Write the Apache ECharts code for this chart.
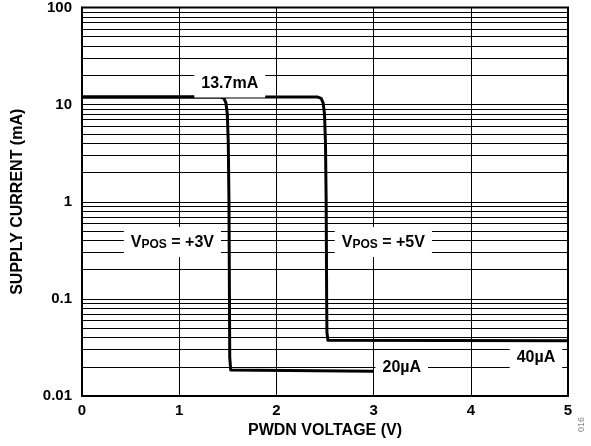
<!DOCTYPE html>
<html>
  <head>
    <meta charset="utf-8" />
    <title>Supply current vs PWDN voltage</title>
    <script type="text/javascript" src="https://cdn.jsdelivr.net/npm/echarts@6/dist/echarts.min.js"></script>
    <style>
      html, body { margin: 0; padding: 0; background: #fff; }
      #main { width: 591px; height: 446px; }
    </style>
  </head>
  <body>
    <div id="main"></div>
    <script type="text/javascript">
    // PWDN voltage (V) vs supply current (mA)
    var vpos3 = [
      [0, 12], [1.42, 12], [1.46, 11.6], [1.48, 10.5], [1.495, 8], [1.505, 4],
      [1.512, 1], [1.517, 0.1], [1.52, 0.025], [1.53, 0.0185], [1.55, 0.018], [3, 0.018]
    ];
    var vpos5 = [
      [0, 12], [2.42, 12], [2.46, 11.6], [2.48, 10.5], [2.495, 8], [2.505, 4],
      [2.512, 1], [2.517, 0.1], [2.52, 0.045], [2.53, 0.0375], [2.55, 0.037], [5, 0.037]
    ];
    var xTicks = [0, 1, 2, 3, 4, 5];
    var yDecades = [0.01, 0.1, 1, 10, 100];
    var notes = [
      [1.52, 16.5, '13.7mA'],
      [0.93, 0.384, '{n|V}{s|POS}{n| = +3V}'],
      [3.1, 0.384, '{n|V}{s|POS}{n| = +5V}'],
      [3.29, 0.0194, '20\u00b5A'],
      [4.67, 0.0246, '40\u00b5A']
    ];

    // minor log grid lines 2..9 inside every decade
    var minorLines = [];
    for (var d = 0; d < yDecades.length - 1; d++) {
      for (var m = 2; m <= 9; m++) {
        minorLines.push({ yAxis: +(yDecades[d] * m).toPrecision(3) });
      }
    }

    var dom = document.getElementById('main');
    var myChart = echarts.init(dom, null, { renderer: 'canvas' });
    var font = 'Liberation Sans, Arial, sans-serif';

    var option = {
      animation: false,
      backgroundColor: '#fff',
      grid: {
        left: 82, top: 7, right: 23, bottom: 50,
        show: true, borderColor: '#000', borderWidth: 2, backgroundColor: 'transparent'
      },
      xAxis: {
        type: 'value',
        min: 0, max: 5, interval: 1,
        name: 'PWDN VOLTAGE (V)',
        nameLocation: 'middle',
        nameGap: 27,
        nameTextStyle: { fontFamily: font, fontWeight: 'bold', fontSize: 16, color: '#000' },
        axisLine: { show: true, lineStyle: { color: '#000', width: 2 } },
        axisTick: { show: false },
        axisLabel: {
          fontFamily: font, fontWeight: 'bold', fontSize: 15, color: '#000', margin: 7,
          formatter: function (v) { return xTicks.indexOf(v) >= 0 ? String(v) : ''; }
        },
        splitLine: { show: true, lineStyle: { color: '#000', width: 1 } }
      },
      yAxis: {
        type: 'log',
        logBase: 10,
        min: 0.01, max: 100,
        name: 'SUPPLY CURRENT (mA)',
        nameLocation: 'middle',
        nameGap: 56,
        nameRotate: 90,
        nameTextStyle: { fontFamily: font, fontWeight: 'bold', fontSize: 16, color: '#000' },
        axisLine: { show: true, lineStyle: { color: '#000', width: 2 } },
        axisTick: { show: false },
        axisLabel: {
          fontFamily: font, fontWeight: 'bold', fontSize: 15, color: '#000', margin: 10,
          formatter: function (v) {
            var hit = yDecades.filter(function (t) { return Math.abs(t - v) / t < 1e-6; });
            return hit.length ? String(hit[0]) : '';
          }
        },
        splitLine: { show: true, lineStyle: { color: '#000', width: 1 } }
      },
      series: [
        {
          name: 'grid',
          type: 'line',
          data: [],
          silent: true,
          markLine: {
            silent: true,
            symbol: 'none',
            label: { show: false },
            lineStyle: { color: '#000', width: 1, type: 'solid' },
            data: minorLines
          }
        },
        {
          name: 'VPOS = +3V',
          type: 'line',
          data: vpos3,
          showSymbol: false,
          lineStyle: { color: '#000', width: 3, join: 'round' },
          z: 5
        },
        {
          name: 'VPOS = +5V',
          type: 'line',
          data: vpos5,
          showSymbol: false,
          lineStyle: { color: '#000', width: 3, join: 'round' },
          z: 5
        },
        {
          name: 'notes',
          type: 'scatter',
          data: notes,
          symbolSize: 0,
          silent: true,
          z: 10,
          itemStyle: { color: '#000', opacity: 1 },
          label: {
            show: true,
            position: 'inside',
            opacity: 1,
            formatter: function (p) { return p.data[2]; },
            backgroundColor: '#fff',
            padding: [6, 7, 6, 7],
            textBorderWidth: 0,
            textBorderColor: 'transparent',
            fontFamily: font, fontWeight: 'bold', fontSize: 16, color: '#000',
            rich: {
              n: { fontFamily: font, fontWeight: 'bold', fontSize: 16, color: '#000', lineHeight: 18, textBorderWidth: 0 },
              s: { fontFamily: font, fontWeight: 'bold', fontSize: 12, color: '#000', lineHeight: 18, verticalAlign: 'bottom', padding: [7, 0, 0, 0], textBorderWidth: 0 }
            }
          }
        }
      ],
      graphic: [
        {
          type: 'text',
          x: 577, y: 432,
          rotation: Math.PI / 2,
          style: { text: '016', fill: '#888', fontSize: 9, fontFamily: font }
        }
      ]
    };

    if (option && typeof option === 'object') {
      myChart.setOption(option);
    }
    </script>
  </body>
</html>
